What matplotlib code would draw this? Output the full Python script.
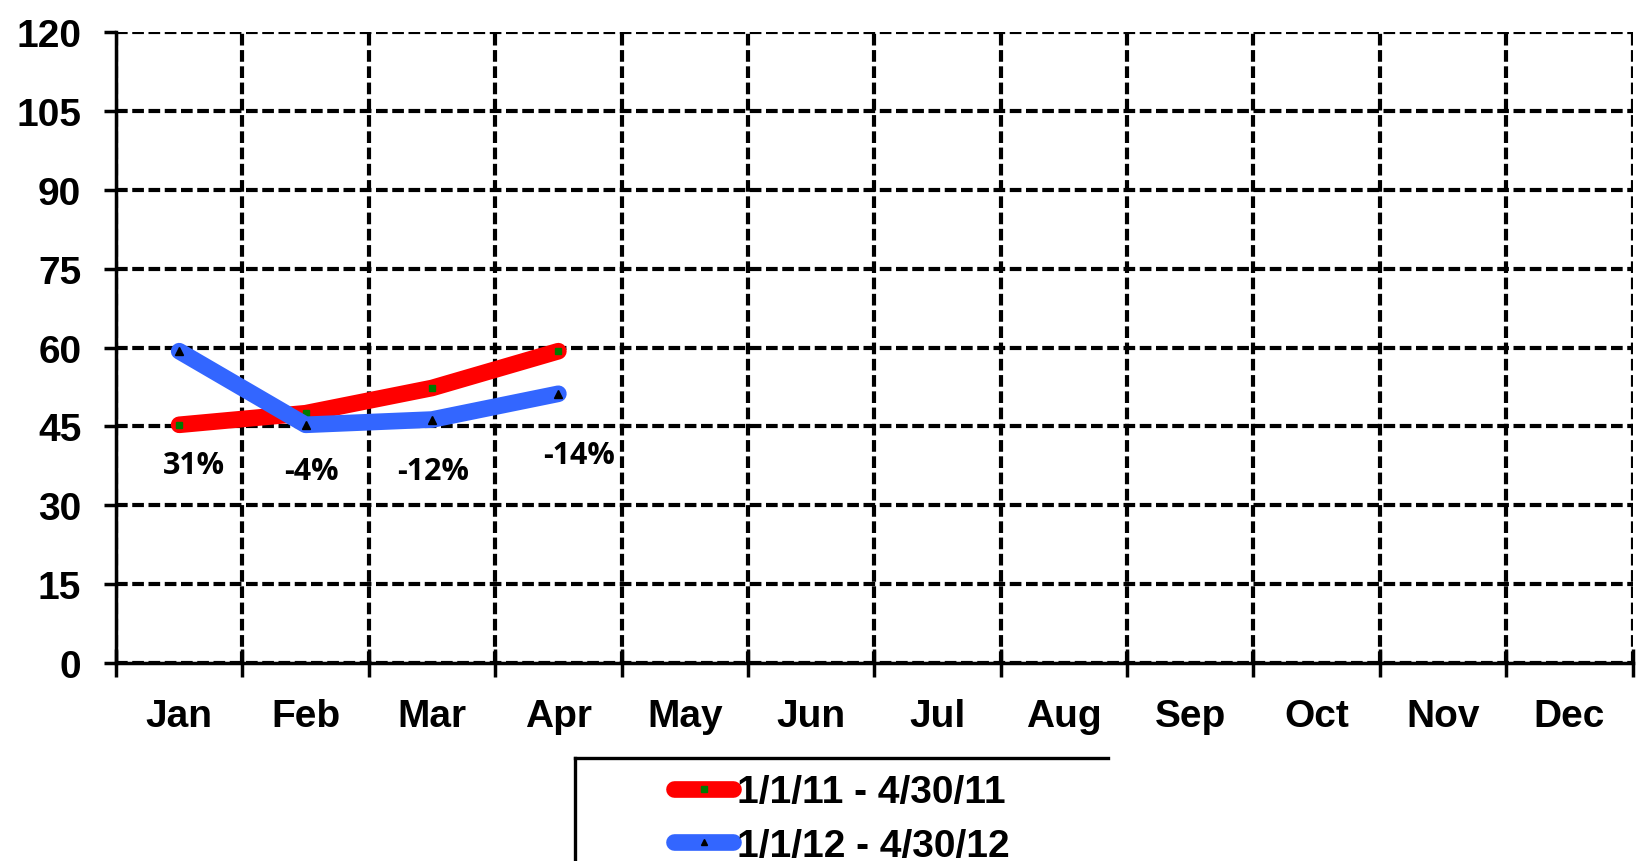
import matplotlib.pyplot as plt
from matplotlib.lines import Line2D

# Data
months = ['Jan', 'Feb', 'Mar', 'Apr', 'May', 'Jun', 'Jul', 'Aug', 'Sep', 'Oct', 'Nov', 'Dec']
vals_2011 = [45.3, 47.5, 52.3, 59.3]
vals_2012 = [59.3, 45.3, 46.3, 51.2]
pct_labels = ['31%', '-4%', '-12%', '-14%']
pct_y = [37.6, 36.6, 36.6, 39.6]
pct_x_off = [0.12, 0.05, 0.01, 0.16]
series_names = ['1/1/11 - 4/30/11', '1/1/12 - 4/30/12']

plt.rcParams['font.family'] = ['Liberation Sans', 'DejaVu Sans']

fig = plt.figure(figsize=(16.43, 8.62), dpi=100)
ax = fig.add_axes([0.0706, 0.2297, 0.9231, 0.7320])

x = [i + 0.5 for i in range(len(vals_2011))]
ax.plot(x, vals_2011, color='#ff0000', lw=12, solid_capstyle='round', zorder=3,
        marker='s', markersize=5, markerfacecolor='#007a00', markeredgecolor='#007a00')
ax.plot(x, vals_2012, color='#3366ff', lw=12, solid_capstyle='round', zorder=4,
        marker='^', markersize=6, markerfacecolor='black', markeredgecolor='black')

for xi, off, yi, t in zip(x, pct_x_off, pct_y, pct_labels):
    ax.text(xi + off, yi, t, ha='center', va='center', fontsize=22,
            fontweight='bold', family=['Open Sans', 'DejaVu Sans'])

ax.set_xlim(0, 12)
ax.set_ylim(0, 120)
ax.set_yticks(range(0, 121, 15))
ax.set_xticks(range(0, 13))
ax.set_xticklabels([])
ax.set_xticks([i + 0.5 for i in range(12)], minor=True)
ax.set_xticklabels(months, minor=True)
ax.tick_params(axis='x', which='minor', length=0, pad=25, labelsize=28)
ax.tick_params(axis='x', which='major', direction='inout', length=20, width=2.5)
ax.tick_params(axis='y', direction='out', length=9, width=2.5, pad=16, labelsize=28)
for lab in ax.get_xticklabels(minor=True) + ax.get_yticklabels():
    lab.set_fontweight('bold')

ax.grid(True, which='major', color='black', linestyle=(0, (2.8, 1.1)), linewidth=3)
ax.set_axisbelow(True)
for s in ['top', 'right']:
    ax.spines[s].set_visible(False)
for s in ['left', 'bottom']:
    ax.spines[s].set_linewidth(2.5)
    ax.spines[s].set_zorder(2)

# Legend: box cut off at the figure bottom (only top and left edges show)
fig.add_artist(Line2D([575 / 1643, 1108 / 1643], [1 - 759 / 862] * 2,
                      transform=fig.transFigure, color='black', lw=2.4))
fig.add_artist(Line2D([575 / 1643] * 2, [1 - 759 / 862, 0],
                      transform=fig.transFigure, color='black', lw=2.4))
handles = [
    Line2D([], [], color='#ff0000', lw=12, solid_capstyle='round', marker='s',
           markersize=5, markerfacecolor='#007a00', markeredgecolor='#007a00'),
    Line2D([], [], color='#3366ff', lw=12, solid_capstyle='round', marker='^',
           markersize=5, markerfacecolor='black', markeredgecolor='black'),
]
leg = fig.legend(handles, series_names, loc='center left',
                 bbox_to_anchor=(655 / 1643, 1 - 820 / 862), frameon=False,
                 handlelength=1.5, handletextpad=0.1, labelspacing=0.45,
                 borderpad=0, prop={'size': 28, 'weight': 'bold'})

fig.savefig('out.png', dpi=100)
